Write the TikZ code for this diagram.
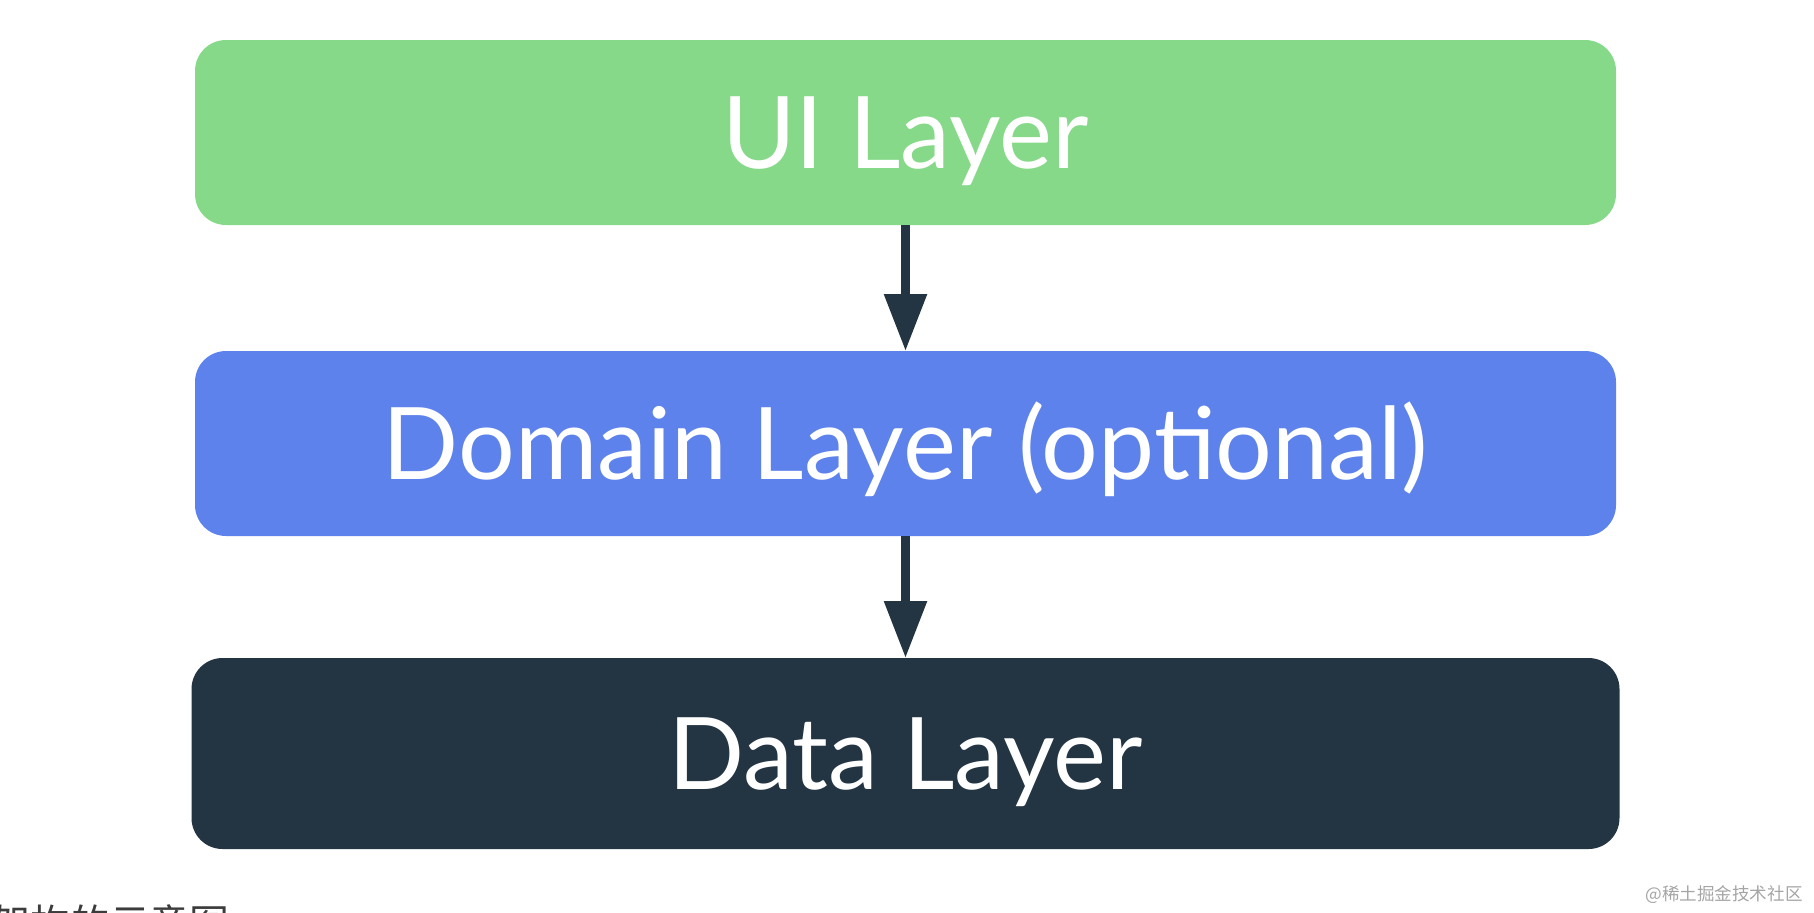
\documentclass[tikz,border=0pt]{standalone}
\usepackage{fontspec}
\newfontfamily\layerfont{Lato}
\newfontfamily\cjkfont{Noto Sans CJK SC}
\usepackage{tikz}
\usetikzlibrary{arrows.meta, positioning}
\definecolor{uigreen}{RGB}{135,217,138}
\definecolor{domainblue}{RGB}{94,130,236}
\definecolor{datanavy}{RGB}{35,52,67}
\definecolor{captiongray}{RGB}{60,60,60}
\definecolor{markgray}{RGB}{165,165,165}
\tikzset{
  layerbox/.style={rectangle,rounded corners=0.62cm,inner sep=0pt,outer sep=0pt,
    minimum width=28.42cm,minimum height=3.7cm,text=white,
    font=\layerfont\fontsize{57}{60}\selectfont,text height=41pt,text depth=0pt},
  layerarr/.style={-{Triangle[width=0.82cm,length=1.14cm]},line width=5.1pt,color=datanavy}
}

\begin{document}
\begin{tikzpicture}
  \clip (0,0) rectangle (36.28,-18.24);

  \node[layerbox,fill=uigreen] (uiLayer) at (18.11,-2.65) {UI Layer};
  \node[layerbox,fill=domainblue,below=2.52cm of uiLayer] (domainLayer) {Domain Layer (optional)};
  \node[layerbox,fill=datanavy,minimum width=28.56cm,minimum height=3.82cm,
        below=2.44cm of domainLayer] (dataLayer) {Data Layer};

  \draw[layerarr] (uiLayer) -- (domainLayer);
  \draw[layerarr] (domainLayer) -- (dataLayer);

  % cut-off caption and watermark
  \node[anchor=base west,inner sep=0pt,text=captiongray,
        font=\cjkfont\fontsize{22.7}{24}\selectfont] (caption) at (-0.2,-18.76) {架构的示意图};
  \node[anchor=east,inner sep=0pt,text=markgray,
        font=\cjkfont\fontsize{10}{12}\selectfont] (watermark) at (36.06,-17.9) {@稀土掘金技术社区};
\end{tikzpicture}
\end{document}
